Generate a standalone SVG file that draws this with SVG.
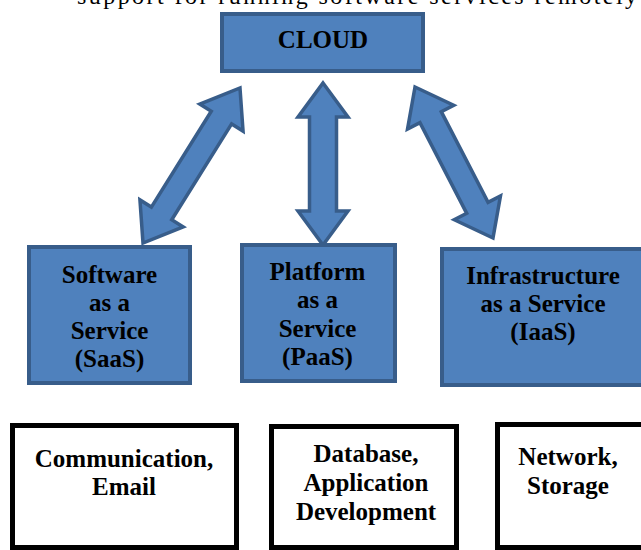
<svg xmlns="http://www.w3.org/2000/svg" width="641" height="550" viewBox="0 0 641 550">
<style>
.blue{fill:#4F81BD;stroke:#385D8A;stroke-width:4}
.arrow{fill:#4F81BD;stroke:#385D8A;stroke-width:3.5;stroke-linejoin:miter}
.white{fill:#FFFFFF;stroke:#000000;stroke-width:5}
.t{font-family:'Liberation Serif','DejaVu Serif',serif;font-weight:700;font-size:25px;fill:#000;text-anchor:middle}
.top{font-family:'Liberation Serif','DejaVu Serif',serif;font-size:24px;fill:#000}
</style>
<rect width="641" height="550" fill="#FFFFFF"/>
<text class="top" x="77" y="4" textLength="560" lengthAdjust="spacing" font-family="Liberation Serif, DejaVu Serif, serif">support for running software services remotely</text>
<g id="connectors">
<polygon class="arrow" transform="translate(191.5,165.5) rotate(-58)" points="-91.5,0 -56.5,-25.5 -56.5,-12 56.5,-12 56.5,-25.5 91.5,0 56.5,25.5 56.5,12 -56.5,12 -56.5,25.5"/>
<polygon class="arrow" transform="translate(323,164) rotate(90)" points="-81,0 -47,-25 -47,-13.5 47,-13.5 47,-25 81,0 47,25 47,13.5 -47,13.5 -47,25"/>
<polygon class="arrow" transform="translate(454,162.5) rotate(62.7)" points="-85,0 -51,-26 -51,-12 51,-12 51,-26 85,0 51,26 51,12 -51,12 -51,26"/>
</g>
<g id="cloud">
<rect class="blue" x="222" y="14" width="201" height="57"/>
<text class="t" x="323" y="48">CLOUD</text>
</g>
<g id="saas">
<rect class="blue" x="29" y="247" width="161" height="136"/>
<text class="t" x="109.5" y="283">Software</text>
<text class="t" x="109.5" y="311">as a</text>
<text class="t" x="109.5" y="339">Service</text>
<text class="t" x="109.5" y="367">(SaaS)</text>
</g>
<g id="paas">
<rect class="blue" x="242" y="245" width="153" height="136"/>
<text class="t" x="317.5" y="280">Platform</text>
<text class="t" x="317.5" y="308">as a</text>
<text class="t" x="317.5" y="337">Service</text>
<text class="t" x="317.5" y="365">(PaaS)</text>
</g>
<g id="iaas">
<rect class="blue" x="442" y="249" width="205" height="136"/>
<text class="t" x="543" y="284">Infrastructure</text>
<text class="t" x="543" y="312">as a Service</text>
<text class="t" x="543" y="340">(IaaS)</text>
</g>
<g id="saas-examples">
<rect class="white" x="12.5" y="425.5" width="224" height="122"/>
<text class="t" x="124" y="467">Communication,</text>
<text class="t" x="124" y="495">Email</text>
</g>
<g id="paas-examples">
<rect class="white" x="271.5" y="426.5" width="185" height="121"/>
<text class="t" x="366" y="462">Database,</text>
<text class="t" x="366" y="491">Application</text>
<text class="t" x="366" y="520">Development</text>
</g>
<g id="iaas-examples">
<rect class="white" x="497.5" y="424.5" width="200" height="123"/>
<text class="t" x="568" y="465">Network,</text>
<text class="t" x="568" y="494">Storage</text>
</g>
</svg>
